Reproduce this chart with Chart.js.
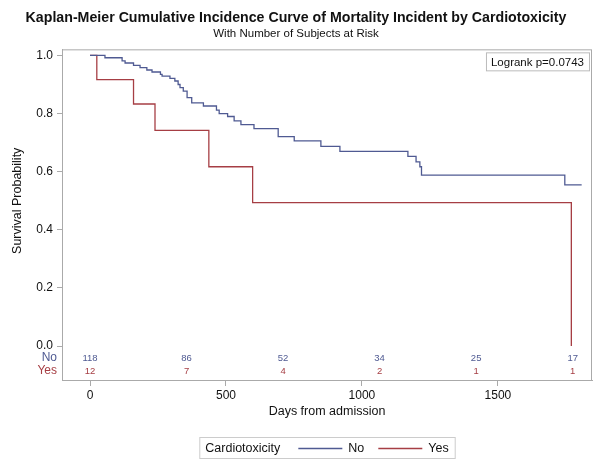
<!DOCTYPE html>
<html>
<head>
<meta charset="utf-8">
<script src="https://cdn.jsdelivr.net/npm/chart.js@4"></script>
<style>
  html, body { margin: 0; padding: 0; background: #fff; }
  #wrap { width: 604px; height: 465px; position: relative; }
</style>
</head>
<body>
<div id="wrap"><canvas id="kmChart"></canvas></div>
<script>
// Kaplan-Meier step data (time in days, survival after the drop)
const noTimes = [0, 55, 118, 129, 160, 184, 209, 228, 259, 265, 294, 312, 324, 331, 343, 357, 374,
                 417, 465, 475, 506, 530, 555, 603, 692, 751, 849, 919, 1169, 1199, 1213, 1219, 1746, 1808];
const noSurv = [1, 0.992, 0.981, 0.974, 0.966, 0.958, 0.950, 0.943, 0.935, 0.929, 0.921, 0.912, 0.900,
                0.889, 0.877, 0.855, 0.837, 0.826, 0.812, 0.800, 0.790, 0.775, 0.762, 0.748, 0.721,
                0.706, 0.687, 0.670, 0.653, 0.634, 0.617, 0.588, 0.555, 0.555];

const yesTimes = [0, 25, 160, 239, 437, 598, 1770];
const yesSurv = [1, 0.917, 0.833, 0.742, 0.617, 0.494, 0];

// number at risk
const riskTimes = [0, 355, 710, 1065, 1420, 1775];
const riskNo = [118, 86, 52, 34, 25, 17];
const riskYes = [12, 7, 4, 2, 1, 1];

const xTicks = [0, 500, 1000, 1500];
const yTicks = [0, 0.2, 0.4, 0.6, 0.8, 1.0];

const blue = '#4F5A92';
const red = '#A63E44';
const font = 'Liberation Sans, Arial, sans-serif';

const toPoints = (ts, vs) => ts.map((t, i) => ({ x: t, y: vs[i] }));

const extras = {
  id: 'extras',
  afterDraw(chart) {
    const { ctx, chartArea: a, scales } = chart;
    const x = scales.x, y = scales.y;
    ctx.save();

    // frame
    ctx.strokeStyle = '#aaaaaa';
    ctx.lineWidth = 1;
    ctx.strokeRect(a.left + 0.5, a.top + 0.5, a.right - a.left - 1, a.bottom - a.top - 1);

    // y axis title, centred over the 0..1 range
    ctx.save();
    ctx.fillStyle = '#111';
    ctx.font = '12.5px ' + font;
    ctx.textAlign = 'center';
    ctx.textBaseline = 'middle';
    ctx.translate(18, (y.getPixelForValue(0) + y.getPixelForValue(1)) / 2);
    ctx.rotate(-Math.PI / 2);
    ctx.fillText('Survival Probability', 0, 0);
    ctx.restore();

    // at-risk table
    ctx.textBaseline = 'middle';
    const rowNo = y.getPixelForValue(0) + 12;
    const rowYes = rowNo + 13;
    ctx.font = '12px ' + font;
    ctx.textAlign = 'right';
    ctx.fillStyle = blue;
    ctx.fillText('No', a.left - 5, rowNo);
    ctx.fillStyle = red;
    ctx.fillText('Yes', a.left - 5, rowYes);
    ctx.font = '9.5px ' + font;
    ctx.textAlign = 'center';
    riskTimes.forEach((t, i) => {
      const px = x.getPixelForValue(t);
      ctx.fillStyle = blue;
      ctx.fillText(String(riskNo[i]), px, rowNo);
      ctx.fillStyle = red;
      ctx.fillText(String(riskYes[i]), px, rowYes);
    });

    // logrank inset
    ctx.font = '11.5px ' + font;
    const txt = 'Logrank p=0.0743';
    const tw = ctx.measureText(txt).width;
    const bw = tw + 10, bh = 18;
    const bx = a.right - 3 - bw, by = a.top + 3;
    ctx.strokeStyle = '#bbbbbb';
    ctx.strokeRect(bx + 0.5, by + 0.5, bw, bh);
    ctx.fillStyle = '#111';
    ctx.textAlign = 'left';
    ctx.fillText(txt, bx + 5, by + bh / 2 + 1);

    // legend
    ctx.font = '12.5px ' + font;
    const lt = 'Cardiotoxicity';
    const items = chart.data.datasets.map(d => ({ label: d.label, color: d.borderColor }));
    const ltw = ctx.measureText(lt).width;
    let total = 6 + ltw + 18;
    items.forEach(it => { total += 44 + 6 + ctx.measureText(it.label).width + 14; });
    total -= 8;
    const cx = (a.left + a.right) / 2;
    const lx = cx - total / 2, ly = 437, lh = 21;
    ctx.strokeStyle = '#cccccc';
    ctx.strokeRect(lx + 0.5, ly + 0.5, total, lh);
    ctx.fillStyle = '#111';
    ctx.textAlign = 'left';
    let px = lx + 6;
    const my = ly + lh / 2 + 1;
    ctx.fillText(lt, px, my);
    px += ltw + 18;
    items.forEach(it => {
      ctx.strokeStyle = it.color;
      ctx.lineWidth = 1.3;
      ctx.beginPath();
      ctx.moveTo(px, my);
      ctx.lineTo(px + 44, my);
      ctx.stroke();
      px += 50;
      ctx.fillStyle = '#111';
      ctx.fillText(it.label, px, my);
      px += ctx.measureText(it.label).width + 14;
    });

    ctx.restore();
  }
};

new Chart(document.getElementById('kmChart').getContext('2d'), {
  type: 'line',
  data: {
    datasets: [
      { label: 'No', data: toPoints(noTimes, noSurv), borderColor: blue, borderWidth: 1.3,
        stepped: 'before', pointRadius: 0, fill: false },
      { label: 'Yes', data: toPoints(yesTimes, yesSurv), borderColor: red, borderWidth: 1.3,
        stepped: 'before', pointRadius: 0, fill: false }
    ]
  },
  options: {
    responsive: true,
    maintainAspectRatio: false,
    animation: false,
    layout: { padding: { left: 0, right: 12, top: 0, bottom: 40 } },
    plugins: {
      legend: { display: false },
      tooltip: { enabled: false },
      title: {
        display: true,
        text: 'Kaplan-Meier Cumulative Incidence Curve of Mortality Incident by Cardiotoxicity',
        color: '#111',
        font: { family: font, size: 14.2, weight: 'bold' },
        padding: { top: 10, bottom: 0 }
      },
      subtitle: {
        display: true,
        text: 'With Number of Subjects at Risk',
        color: '#111',
        font: { family: font, size: 11.5 },
        padding: { top: 0, bottom: 8.5 }
      }
    },
    scales: {
      x: {
        type: 'linear',
        min: -103,
        max: 1846,
        afterBuildTicks: s => { s.ticks = xTicks.map(v => ({ value: v })); },
        afterFit: s => { s.height = 44; },
        grid: { drawOnChartArea: false, drawTicks: true, tickLength: 5, color: '#aaaaaa' },
        border: { color: '#aaaaaa' },
        ticks: { color: '#111', padding: 2, font: { family: font, size: 12 },
                 callback: v => String(v) },
        title: { display: true, text: 'Days from admission', color: '#111',
                 font: { family: font, size: 12.5 }, padding: { top: 4, bottom: 6 } }
      },
      y: {
        type: 'linear',
        min: -0.12,
        max: 1.021,
        afterBuildTicks: s => { s.ticks = yTicks.map(v => ({ value: v })); },
        afterFit: s => { s.width = 62; },
        grid: { drawOnChartArea: false, drawTicks: true, tickLength: 5, color: '#aaaaaa' },
        border: { color: '#aaaaaa' },
        ticks: { color: '#111', padding: 4, font: { family: font, size: 12 },
                 callback: v => v.toFixed(1) }
      }
    }
  },
  plugins: [extras]
});
</script>
</body>
</html>
